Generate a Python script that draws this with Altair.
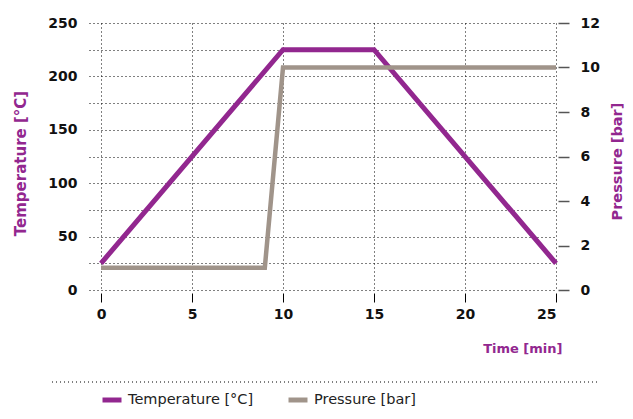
import altair as alt
import pandas as pd

FONT = "DejaVu Sans"

time_temp = [0, 10, 15, 25]
temp_vals = [25, 225, 225, 25]
time_pres = [0, 9, 10, 25]
pres_vals = [1, 1, 10, 10]
series = ["Temperature [°C]", "Pressure [bar]"]
colors = ["#92278f", "#a0948a"]
x_ticks = [0, 5, 10, 15, 20, 25]
temp_ticks = [0, 25, 50, 75, 100, 125, 150, 175, 200, 225, 250]
pres_ticks = [0, 2, 4, 6, 8, 10, 12]

temp_df = pd.DataFrame({"time": time_temp, "value": temp_vals, "series": series[0]})
pres_df = pd.DataFrame({"time": time_pres, "value": pres_vals, "series": series[1]})

PURPLE = colors[0]

x_enc = alt.X(
    "time:Q",
    scale=alt.Scale(domain=[-0.66, 25], nice=False, zero=False),
    axis=alt.Axis(
        values=x_ticks, title="Time [min]", grid=True, gridColor="#000",
        gridDash=[1, 3], gridWidth=1, domain=False, offset=3, tickSize=9,
        tickColor="#000", tickWidth=1, labelPadding=5, labelFontSize=14,
        labelFont=FONT, labelFontWeight="bold", labelColor="#111",
        titleFont=FONT, titleFontSize=13, titleFontWeight="bold",
        titleColor=PURPLE, titleX=473, titleY=55, titleAlign="right",
        titleBaseline="middle",
    ),
)

color_enc = alt.Color(
    "series:N",
    scale=alt.Scale(domain=series, range=colors),
    legend=alt.Legend(
        title=None, orient="none", direction="horizontal", legendX=11, legendY=365,
        symbolType="stroke", symbolSize=361, symbolStrokeWidth=5, labelFont=FONT,
        labelFontSize=14.5, labelColor="#222", labelOffset=4, columnPadding=24,
    ),
)

temp_line = alt.Chart(temp_df).mark_line(strokeWidth=5, strokeJoin="miter", strokeCap="butt").encode(
    x=x_enc,
    y=alt.Y(
        "value:Q",
        scale=alt.Scale(domain=[0, 250], nice=False),
        axis=alt.Axis(
            values=temp_ticks, grid=True, gridColor="#000", gridDash=[1, 3], gridWidth=1,
            domain=False, ticks=False, labelPadding=12,
            labelExpr="datum.value % 50 == 0 ? datum.label : ''",
            labelFontSize=14, labelFont=FONT, labelFontWeight="bold", labelColor="#111",
            title="Temperature [°C]", titleFont=FONT, titleFontSize=15,
            titleFontWeight="bold", titleColor=PURPLE, titleAngle=-90,
            titleX=-69, titleY=140, titleAlign="center", titleBaseline="middle",
        ),
    ),
    color=color_enc,
)

pres_line = alt.Chart(pres_df).mark_line(strokeWidth=4.5, strokeJoin="miter", strokeCap="butt").encode(
    x=x_enc,
    y=alt.Y(
        "value:Q",
        scale=alt.Scale(domain=[0, 12], nice=False),
        axis=alt.Axis(
            orient="right", values=pres_ticks, grid=False, domain=False, offset=2,
            tickSize=11, tickColor="#555", tickWidth=1.5, labelPadding=11,
            labelFontSize=14, labelFont=FONT, labelFontWeight="bold", labelColor="#111",
            title="Pressure [bar]", titleFont=FONT, titleFontSize=14.5,
            titleFontWeight="bold", titleColor=PURPLE, titleAngle=-90,
            titleX=59, titleY=138, titleAlign="center", titleBaseline="middle",
        ),
    ),
    color=color_enc,
)

sep = alt.Chart(pd.DataFrame({"a": [0]})).mark_rule(
    color="#000", strokeDash=[1, 3], strokeWidth=1
).encode(x=alt.value(-37), x2=alt.value(511), y=alt.value(359))

chart = (
    alt.layer(temp_line, pres_line, sep)
    .resolve_scale(y="independent")
    .properties(
        width=467, height=267,
        padding={"left": 81, "top": 15, "right": 69, "bottom": 121},
        autosize=alt.AutoSizeParams(type="none"),
    )
    .configure_view(stroke=None)
)

chart.save("out.html", embed_options={"renderer": "svg", "actions": False})
